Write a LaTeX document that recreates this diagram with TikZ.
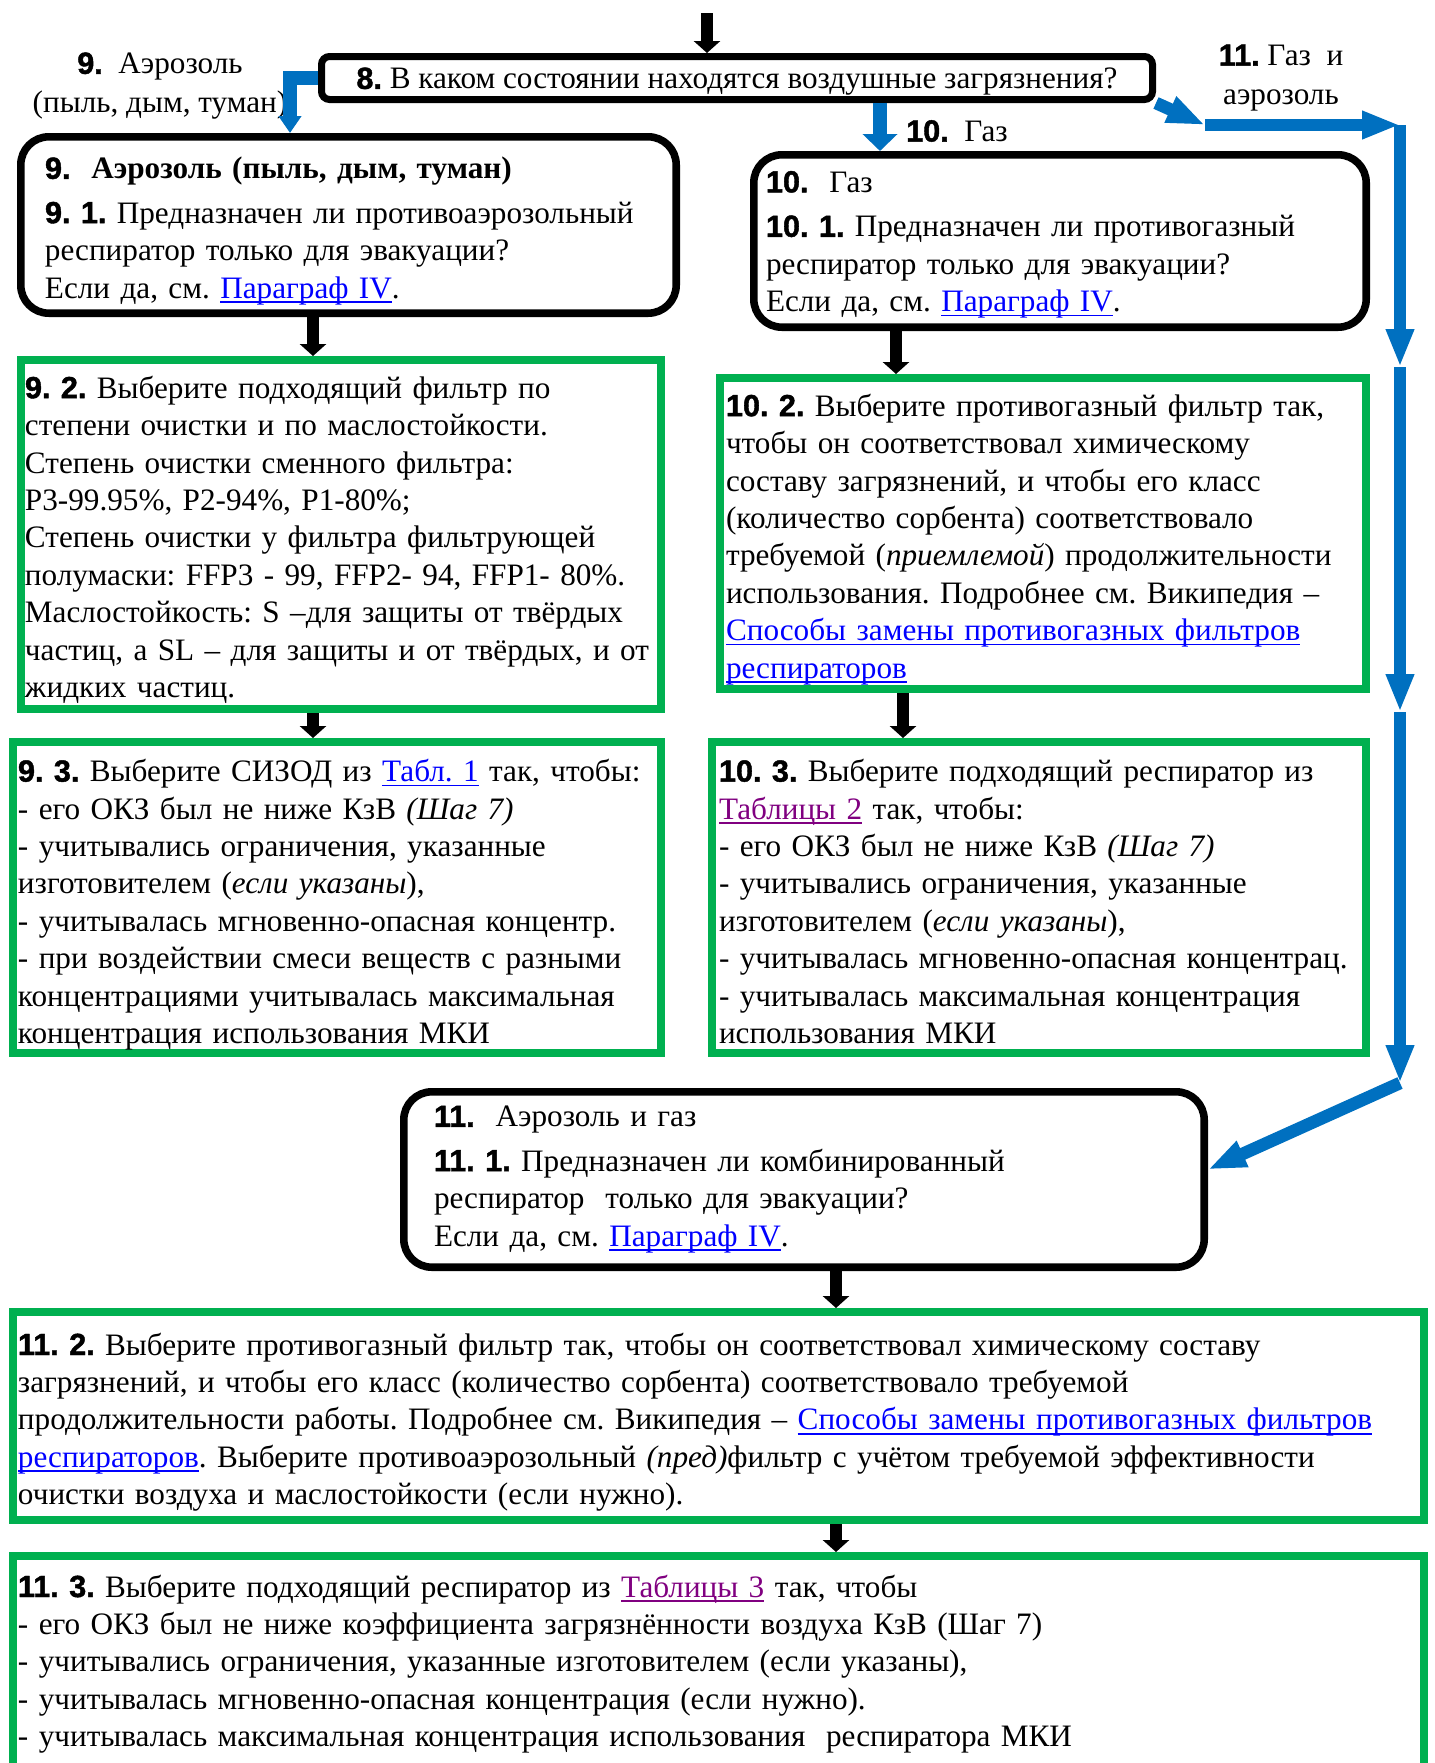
\documentclass[tikz,border=0pt]{standalone}
\usepackage{fontspec}
\setmainfont{Liberation Serif}
\setsansfont{Liberation Sans}
\newfontfamily\numfont{Liberation Sans}[BoldFeatures={FakeBold=1.4}]
\usepackage{xcolor}
\usepackage{tikz}
\usetikzlibrary{positioning, arrows.meta, calc}
\definecolor{boxgreen}{HTML}{00B050}
\definecolor{arrowblue}{HTML}{0070C0}
\definecolor{linkblue}{HTML}{0000FF}
\definecolor{linkpurple}{HTML}{800080}
\newsavebox\linkbox
\newcommand{\ulink}[1]{\sbox\linkbox{#1}\leavevmode\rlap{\rule[-2.4pt]{\wd\linkbox}{0.9pt}}\usebox\linkbox}
\newcommand{\stepnum}[1]{{\numfont\bfseries\fontsize{15.3}{18.7}\selectfont #1}}
\newcommand{\lnk}[1]{\textcolor{linkblue}{\ulink{#1}}}
\newcommand{\vlnk}[1]{\textcolor{linkpurple}{\ulink{#1}}}
\frenchspacing

\begin{document}
\begin{tikzpicture}[
  x=0.5pt, y=-0.5pt,
  font=\fontsize{15.6}{18.7}\selectfont,
  qbox/.style={
    draw, line width=3.8pt, rounded corners=14pt,
    anchor=north west, align=left, inner ysep=0pt
  },
  gbox/.style={
    draw=boxgreen, line width=3.8pt,
    anchor=north west, align=left, inner ysep=0pt
  },
  qlabel/.style={align=center, inner sep=0pt},
  arr/.style={line width=6pt, -{Triangle[width=13pt, length=6pt]}},
  barr/.style={line width=6.3pt, arrowblue, -{Triangle[width=13pt, length=19pt]}},
  bshort/.style={line width=7pt, arrowblue, -{Triangle[width=#1, length=8.5pt]}}
]
\useasboundingbox (0,0) rectangle (1435,1763);

% Question 8
\node[draw, line width=3.5pt, rounded corners=4pt, anchor=north west,
  minimum width=415.5pt, inner sep=0pt,
  text height=16.2pt, text depth=5.3pt] (b8) at (318,53)
  {\stepnum{8.} В каком состоянии находятся воздушные загрязнения?};

% Branch labels
\node[qlabel] (lbl9) at (160,86)
  {\stepnum{9.}\ \ Аэрозоль\\[0.8pt](пыль, дым, туман)};
\node[qlabel] (lbl10) at (957,131) {\stepnum{10.}\ \ Газ};
\node[qlabel] (lbl11) at (1281,78)
  {\stepnum{11.} Газ\ \ и\\[0.8pt]аэрозоль};

% Aerosol column
\node[qbox, minimum width=327.7pt, text width=303.5pt, inner xsep=12.1pt,
  text height=21pt, text depth=67.2pt] (b9) at (17,133)
  {\stepnum{9.}\ \ \textbf{Аэрозоль (пыль, дым, туман)}\\[3.5pt]
   \stepnum{9. 1.} Предназначен ли противоаэрозольный\\
   респиратор только для эвакуации?\\
   Если да, см. \lnk{Параграф IV}.};
\node[gbox, minimum width=320.2pt, text width=316pt, inner xsep=2.1pt,
  text height=19.2pt, text depth=155.5pt] (b92) at (17,356)
  {\stepnum{9. 2.} Выберите подходящий фильтр по\\
   степени очистки и по маслостойкости.\\
   Степень очистки сменного фильтра:\\
   P3-99.95\%, P2-94\%, P1-80\%;\\
   Степень очистки у фильтра фильтрующей\\
   полумаски: FFP3 - 99, FFP2- 94, FFP1- 80\%.\\
   Маслостойкость: S –для защиты от твёрдых\\
   частиц, а SL – для защиты и от твёрдых, и от\\
   жидких частиц.};
\node[gbox, minimum width=324.2pt, text width=319pt, inner xsep=2.6pt,
  text height=19.9pt, text depth=135.8pt] (b93) at (9,738)
  {\stepnum{9. 3.} Выберите СИЗОД из \lnk{Табл. 1} так, чтобы:\\
   - его ОКЗ был не ниже КзВ \textit{(Шаг 7)}\\
   - учитывались ограничения, указанные\\
   изготовителем (\textit{если указаны}),\\
   - учитывалась мгновенно-опасная концентр.\\
   - при воздействии смеси веществ с разными\\
   концентрациями учитывалась максимальная\\
   концентрация использования МКИ};

% Gas column
\node[qbox, minimum width=306.2pt, text width=294pt, inner xsep=6.1pt,
  text height=18.8pt, text depth=67.4pt] (b10) at (750,151)
  {\stepnum{10.}\ \ Газ\\[3.5pt]
   \stepnum{10. 1.} Предназначен ли противогазный\\
   респиратор только для эвакуации?\\
   Если да, см. \lnk{Параграф IV}.};
\node[gbox, minimum width=323.2pt, text width=317pt, inner xsep=3.1pt,
  text height=19.2pt, text depth=136.5pt] (b102) at (716,374)
  {\stepnum{10. 2.} Выберите противогазный фильтр так,\\
   чтобы он соответствовал химическому\\
   составу загрязнений, и чтобы его класс\\
   (количество сорбента) соответствовало\\
   требуемой (\textit{приемлемой}) продолжительности\\
   использования. Подробнее см. Википедия –\\
   \lnk{Способы замены противогазных фильтров}\\
   \lnk{респираторов}};
\node[gbox, minimum width=327.2pt, text width=320pt, inner xsep=3.6pt,
  text height=19.9pt, text depth=135.8pt] (b103) at (708,738)
  {\stepnum{10. 3.} Выберите подходящий респиратор из\\
   \vlnk{Таблицы 2} так, чтобы:\\
   - его ОКЗ был не ниже КзВ \textit{(Шаг 7)}\\
   - учитывались ограничения, указанные\\
   изготовителем (\textit{если указаны}),\\
   - учитывалась мгновенно-опасная концентрац.\\
   - учитывалась максимальная концентрация\\
   использования МКИ};

% Aerosol and gas
\node[qbox, minimum width=400.2pt, text width=370pt, inner xsep=15.1pt,
  text height=17.5pt, text depth=70.2pt] (b11) at (400,1088)
  {\stepnum{11.}\ \ Аэрозоль и газ\\[3.5pt]
   \stepnum{11. 1.} Предназначен ли комбинированный\\
   респиратор\ \ только для эвакуации?\\
   Если да, см. \lnk{Параграф IV}.};
\node[gbox, minimum width=705.7pt, text width=700.5pt, inner xsep=2.6pt,
  text height=21.6pt, text depth=82.6pt] (b112) at (9,1308)
  {\stepnum{11. 2.} Выберите противогазный фильтр так, чтобы он соответствовал химическому составу\\
   загрязнений, и чтобы его класс (количество сорбента) соответствовало требуемой\\
   продолжительности работы. Подробнее см. Википедия – \lnk{Способы замены противогазных фильтров}\\
   \lnk{респираторов}. Выберите противоаэрозольный \textit{(пред)}фильтр с учётом требуемой эффективности\\
   очистки воздуха и маслостойкости (если нужно).};
\node[gbox, minimum width=705.7pt, text width=700.5pt, inner xsep=2.6pt,
  text height=20.6pt, text depth=100pt] (b113) at (9,1552)
  {\stepnum{11. 3.} Выберите подходящий респиратор из \vlnk{Таблицы 3} так, чтобы\\
   - его ОКЗ был не ниже коэффициента загрязнённости воздуха КзВ (Шаг 7)\\
   - учитывались ограничения, указанные изготовителем (если указаны),\\
   - учитывалась мгновенно-опасная концентрация (если нужно).\\
   - учитывалась максимальная концентрация использования\ \ респиратора МКИ};

% Arrow columns and bends
\coordinate (top) at (707,13);
\coordinate (c9) at (313,0);
\coordinate (c9b) at (290,0);
\coordinate (c10) at (880,0);
\coordinate (c10a) at (896,0);
\coordinate (c10b) at (903,0);
\coordinate (c11) at (836,0);
\coordinate (k1) at (1205,125);
\coordinate (k2) at (1400,125);
\coordinate (k3) at (1400,367);
\coordinate (k4) at (1400,712);
\coordinate (k5) at (1400,1083);

% Black flow arrows
\draw[arr] (top) -- (top |- b8.north);
\draw[arr] (b9.south -| c9) -- (b92.north -| c9);
\draw[arr] (b92.south -| c9) -- (b93.north -| c9);
\draw[arr] (b10.south -| c10a) -- (b102.north -| c10a);
\draw[arr] (b102.south -| c10b) -- (b103.north -| c10b);
\draw[arr] (b11.south -| c11) -- (b112.north -| c11);
\draw[arr] (b112.south -| c11) -- (b113.north -| c11);

% Blue branch arrows
\draw[bshort=11pt] (b8.west) -| (c9b |- b9.north);
\draw[bshort=17pt] (b8.south -| c10) -- (b10.north -| c10);
\draw[barr] (b8.south east) -- (k1);
\draw[barr] (k1) -- (k2);
\draw[barr] (k2) -- (k3);
\draw[barr] (k3) -- (k4);
\draw[barr] (k4) -- (k5);
\draw[barr] (k5) -- ([yshift=5pt]b11.east);

\end{tikzpicture}
\end{document}
